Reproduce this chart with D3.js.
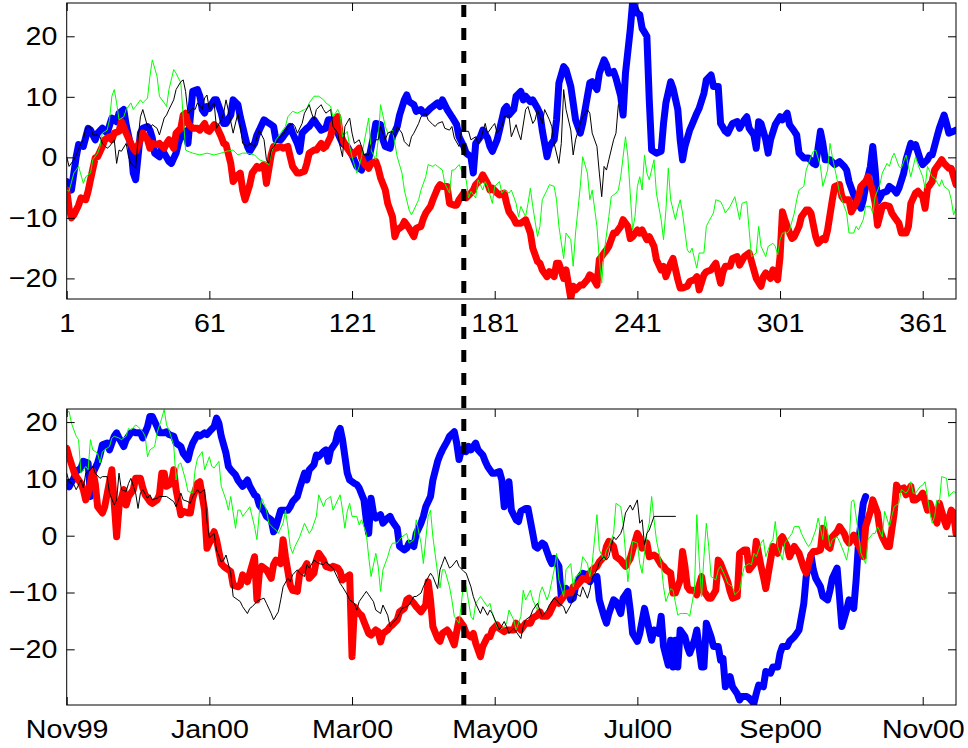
<!DOCTYPE html>
<html>
<head>
<meta charset="utf-8">
<script src="https://cdn.jsdelivr.net/npm/d3@7"></script>
<style>
  html, body { margin: 0; padding: 0; background: #fff; }
  svg { display: block; }
  text { font-family: "Liberation Sans", Arial, Helvetica, sans-serif; }
</style>
</head>
<body>
<svg id="chart" width="968" height="748"></svg>
<script>
// ---- axis ticks and labels ----
const xTicks = [1, 61, 121, 181, 241, 301, 361];
const topXLabels = ["1", "61", "121", "181", "241", "301", "361"];
const bottomXLabels = ["Nov99", "Jan00", "Mar00", "May00", "Jul00", "Sep00", "Nov00"];
const yTicks = [-20, -10, 0, 10, 20];
const eventDay = 168;

// ---- upper panel series: [day, value] ----
const topBlue = [[1,-4.0],[3,-5.4],[5,0.1],[6,2.1],[8,1.8],[10,4.8],[11,4.5],[13,2.9],[14,4.0],[16,4.8],[18,4.0],[20,6.5],[22,5.9],[23,7.3],[25,7.9],[26,5.4],[28,1.8],[29,-2.6],[30,-3.7],[31,0.1],[32,4.0],[33,4.8],[35,5.1],[36,4.5],[37,3.2],[38,0.7],[40,0.1],[41,1.5],[42,0.7],[44,-0.7],[45,-1.0],[47,0.7],[48,2.3],[49,3.4],[51,4.3],[52,2.3],[53,6.7],[54,10.9],[56,11.2],[57,10.1],[58,7.9],[59,7.3],[60,8.4],[61,8.1],[63,9.5],[64,9.5],[66,7.3],[67,5.6],[68,5.6],[70,7.0],[71,9.5],[73,8.7],[74,6.7],[75,5.1],[77,1.8],[78,1.0],[80,2.3],[81,3.7],[82,4.5],[84,6.2],[85,5.9],[87,5.4],[88,5.1],[89,2.9],[91,2.9],[92,3.4],[94,4.5],[95,5.1],[96,4.0],[98,2.3],[99,1.0],[100,4.0],[102,4.8],[103,5.1],[105,6.2],[106,5.6],
[108,4.5],[110,4.8],[111,6.2],[113,6.2],[115,4.0],[117,2.3],[119,1.8],[121,0.4],[123,-1.5],[125,-2.1],[127,0.1],[128,-0.4],[130,3.4],[131,5.6],[133,5.4],[134,2.9],[135,1.8],[137,1.5],[138,3.4],[140,5.1],[141,7.0],[143,9.5],[144,10.3],[145,9.2],[147,8.7],[148,7.6],[150,7.9],[151,7.3],[152,7.3],[154,8.1],[155,8.4],[157,9.0],[158,8.4],[159,9.5],[161,7.9],[163,6.7],[165,5.4],[166,3.4],[168,1.8],[169,0.7],[171,0.1],[172,-2.6],[173,2.3],[175,3.4],[176,4.5],[178,3.2],[179,1.8],[180,1.0],[182,2.9],[183,4.5],[185,7.9],[186,8.4],[187,7.0],[189,7.9],[190,10.1],[192,10.9],[193,9.5],[194,10.1],[196,9.2],[197,9.5],[199,8.1],[200,7.3],[201,4.5],[203,0.1],[204,1.8],[206,2.9],[207,6.2],[208,12.3],[210,15.0],[211,14.5],[213,11.7],[214,9.0],[215,6.2],[217,4.0],[218,5.6],[220,10.1],[221,12.3],[222,12.5],[224,11.2],[225,13.9],[227,16.1],[228,15.3],[229,13.9],[231,14.2],[232,13.1],[234,10.1],[235,7.0],[236,13.9],[238,21.1],[239,25.6],[241,23.8],[242,23.6],[243,21.3],[245,20.0],[246,9.5],[247,1.2],[249,0.7],[251,1.0],[252,5.6],[253,9.0],[255,12.5],[256,11.4],[258,7.9],[259,2.9],[260,-0.4],[261,1.8],[263,4.5],[264,5.4],[266,7.3],[267,8.1],[269,10.6],[270,12.8],[272,13.6],[273,11.7],[275,11.7],[276,5.6],[278,4.3],[279,4.0],[281,5.6],[283,5.9],[284,4.8],[286,6.2],[287,6.7],[288,4.8],[290,3.7],[291,1.5],[292,5.9],[293,5.6],[295,2.9],[296,0.7],[297,2.9],[299,5.4],[301,6.7],[302,6.2],[304,7.3],[305,5.4],[307,4.3],[308,3.7],[309,0.7],[311,-0.1],[313,-0.1],[315,-1.0],[316,-1.2],[318,4.3],[319,2.3],[320,-0.4],[322,-0.4],[324,-1.2],[326,-0.7],[328,-1.5],[329,-2.1],[330,-4.0],[332,-6.2],[333,-7.0],[335,-8.4],[336,-7.0],[337,-4.8],[339,-1.5],[340,1.8],[341,-2.1],[342,-7.3],[343,-6.7],[344,-5.9],[346,-5.6],[347,-4.8],[349,-5.4],[350,-5.9],[351,-5.1],[353,-2.6],[354,-0.4],[356,2.3],[357,1.8],[358,2.1],[360,-0.4],[361,-1.2],[363,-0.4],[364,0.4],[365,0.4],[367,3.4],[368,4.8],[370,7.0],[371,5.6],[372,4.0],[374,4.3],[375,4.5]];

const topRed = [[1,-5.4],[2,-8.4],[3,-10.0],[4,-9.5],[6,-7.9],[7,-6.7],[9,-7.0],[10,-5.6],[11,-3.7],[13,-0.1],[14,0.1],[16,1.8],[17,2.9],[19,3.4],[20,2.9],[21,4.0],[23,4.3],[24,5.9],[26,4.0],[28,2.3],[29,1.5],[30,1.0],[32,2.9],[33,4.0],[35,2.9],[36,1.5],[37,2.3],[39,2.1],[40,2.3],[42,1.5],[43,2.3],[44,2.9],[46,1.5],[47,4.0],[49,4.8],[50,7.0],[51,7.3],[52,5.6],[54,4.8],[56,4.8],[57,4.5],[59,5.6],[60,4.5],[61,4.3],[63,5.4],[64,5.1],[66,3.4],[67,2.3],[68,2.1],[70,-1.0],[71,-4.0],[73,-2.9],[74,-2.6],[75,-5.4],[76,-7.0],[78,-4.5],[79,-2.6],[81,-1.5],[82,-1.8],[84,-1.2],[85,-4.3],[87,0.4],[88,1.8],[89,1.5],[91,1.8],[92,1.5],[94,1.8],[95,0.1],[96,-1.5],[98,-2.6],[99,-2.6],[101,-2.3],[102,-1.0],[103,0.7],[105,1.2],[106,1.2],
[108,2.3],[109,1.5],[110,1.8],[112,3.4],[113,5.4],[115,6.7],[116,4.0],[117,2.9],[119,1.5],[121,0.4],[122,0.7],[124,1.5],[125,-0.1],[126,-1.0],[128,-1.8],[129,-1.0],[131,-0.7],[132,-1.8],[133,-3.4],[135,-5.4],[136,-7.6],[138,-9.8],[139,-13.1],[140,-12.0],[142,-11.4],[143,-10.6],[145,-11.7],[147,-13.1],[148,-11.7],[150,-11.4],[151,-10.1],[152,-9.2],[154,-8.1],[155,-7.0],[157,-5.1],[158,-4.5],[159,-4.8],[161,-4.8],[162,-7.6],[164,-7.9],[165,-7.9],[166,-7.0],[168,-5.9],[169,-6.7],[171,-5.9],[172,-5.4],[173,-4.5],[175,-3.7],[176,-2.9],[178,-4.3],[179,-5.4],[180,-5.1],[182,-5.9],[183,-6.2],[185,-5.9],[186,-7.6],[187,-9.0],[189,-10.1],[190,-10.9],[192,-10.9],[193,-10.6],[194,-10.3],[196,-12.5],[197,-15.0],[199,-17.2],[200,-17.5],[201,-18.6],[203,-19.7],[204,-18.9],[206,-19.7],[207,-17.5],[208,-17.5],[210,-20.0],[211,-18.6],[213,-23.3],[214,-21.3],[215,-21.9],[217,-21.1],[218,-21.1],[220,-20.2],[221,-19.4],[222,-19.7],[224,-21.1],[225,-16.9],[227,-15.8],[228,-15.3],[229,-14.7],[231,-12.5],[232,-12.5],[234,-11.4],[235,-10.3],[237,-11.4],[238,-13.4],[239,-13.1],[241,-12.0],
[242,-12.5],[243,-12.0],[245,-13.6],[246,-13.1],[248,-14.7],[249,-16.9],[251,-18.6],[252,-18.0],[253,-19.7],[255,-17.5],[256,-16.7],[258,-20.2],[259,-21.6],[260,-21.6],[262,-21.3],[263,-20.5],[265,-20.2],[266,-19.7],[267,-21.9],[269,-19.4],[270,-18.9],[272,-18.6],[273,-18.0],[274,-17.5],[276,-20.8],[277,-18.9],[278,-18.0],[280,-18.0],[281,-16.7],[283,-16.4],[284,-17.8],[286,-16.4],[287,-16.1],[288,-15.8],[290,-18.6],[291,-20.0],[293,-21.3],[294,-19.7],[295,-19.1],[297,-20.0],[298,-18.6],[300,-20.2],[301,-16.4],[302,-9.0],[303,-10.3],[305,-12.5],[306,-13.4],[307,-13.1],[309,-11.4],[310,-9.8],[312,-8.7],[313,-8.7],[314,-9.2],[316,-13.1],[317,-14.2],[319,-13.4],[320,-13.6],[321,-12.0],[323,-7.0],[324,-4.8],[326,-4.5],[327,-6.5],[328,-7.0],[330,-7.0],[331,-9.0],[333,-7.6],[334,-6.5],[335,-4.8],[337,-4.0],[338,-3.2],[340,-5.6],[341,-7.6],[342,-11.2],[344,-8.1],[345,-7.9],[347,-8.1],[348,-9.2],[349,-9.8],[351,-10.9],[352,-12.5],[354,-12.5],[355,-11.4],[356,-7.6],[358,-5.9],[359,-5.6],[361,-6.5],[362,-8.4],[363,-5.1],[365,-4.0],[366,-2.1],[368,-1.0],[369,-0.4],[370,-1.0],[372,-1.8],[373,-1.8],[375,-4.5]];

const topGreen = [[1,-5.4],[2,-5.6],[4,-2.6],[6,-1.5],[8,-4.3],[9,-3.2],[11,-2.6],[12,-0.4],[14,0.7],[15,1.8],[16,4.0],[18,4.5],[19,6.2],[20,10.1],[21,11.2],[22,9.0],[23,6.2],[25,6.7],[26,7.9],[28,9.0],[29,7.9],[30,8.4],[32,9.5],[33,9.0],[35,9.8],[36,13.4],[37,16.1],[39,13.4],[40,10.1],[42,9.0],[43,8.4],[44,11.2],[46,14.5],[47,13.9],[49,12.3],[50,6.7],[51,1.2],[52,1.0],[54,0.7],[57,0.4],[60,0.7],[63,0.4],[66,0.7],[68,1.0],[71,1.2],[73,0.4],[75,0.7],[77,0.7],[80,0.4],[82,-0.4],[84,-0.7],[86,-1.2],[87,0.7],[89,2.9],[91,4.0],[93,5.1],[94,6.7],[96,7.6],[98,7.3],[101,7.9],[102,8.1],[103,9.0],[105,10.1],
[107,10.1],[109,9.5],[110,9.0],[112,8.4],[113,6.7],[115,7.9],[116,7.0],[117,3.4],[119,4.3],[120,1.8],[121,0.1],[123,-2.6],[124,-1.5],[125,0.1],[126,2.3],[128,6.5],[129,1.2],[131,-0.4],[132,2.9],[133,8.7],[135,5.1],[136,4.0],[138,4.5],[139,2.3],[140,0.1],[142,-2.6],[143,-5.4],[145,-8.7],[146,-9.5],[147,-8.7],[149,-7.0],[150,-5.4],[152,-3.2],[153,-1.2],[155,-1.5],[156,-1.2],[157,-1.5],[159,-2.1],[160,-4.3],[162,-5.9],[163,-2.1],[164,-2.1],[166,-1.2],[167,-2.1],[169,-3.7],[170,-6.7],[171,-5.6],[173,-6.7],[174,-3.7],[176,-5.4],[177,-4.0],[178,-4.8],[180,-7.6],[181,-4.8],[183,-4.0],[184,-5.9],[185,-5.4],[187,-5.9],[188,-5.4],[190,-7.6],[191,-9.8],[192,-8.1],[194,-9.8],[195,-7.6],[196,-5.1],[197,-8.1],[199,-13.1],[200,-11.4],[201,-7.0],[203,-5.4],[204,-4.5],[206,-4.8],[207,-7.0],[208,-11.4],[210,-16.7],[211,-12.5],[213,-13.6],[214,-18.0],[215,-12.5],[217,-4.8],[218,0.1],[220,-2.6],[221,-7.0],[222,-5.4],[224,-11.4],[225,-16.9],[226,-20.8],[227,-15.8],[229,-9.8],[230,-6.5],[232,-5.9],[233,-5.4],[234,-3.2],[236,3.4],[237,0.1],[239,-12.0],[240,-9.8],[241,-4.8],
[242,-3.2],[243,-5.4],[244,0.4],[245,-2.6],[246,-3.7],[248,-0.4],[249,-5.9],[251,-10.3],[252,-13.6],[253,-8.7],[254,-1.8],[255,-7.0],[257,-10.3],[258,-8.4],[259,-7.0],[260,-9.2],[262,-15.3],[263,-15.8],[264,-15.0],[265,-16.7],[266,-18.3],[267,-15.8],[269,-15.8],[270,-11.4],[271,-10.6],[273,-9.2],[274,-7.0],[276,-7.3],[277,-8.1],[278,-9.2],[280,-8.1],[282,-6.5],[284,-10.3],[285,-7.6],[287,-7.3],[288,-12.0],[289,-16.4],[291,-15.8],[292,-11.4],[293,-14.7],[295,-16.4],[296,-14.7],[298,-14.2],[299,-14.7],[300,-16.1],[301,-13.6],[302,-12.5],[304,-12.5],[305,-12.0],[307,-9.2],[308,-7.0],[309,-5.4],[311,-4.8],[312,-2.1],[314,0.1],[315,1.0],[316,1.2],[318,-1.5],[319,-4.8],[321,-2.1],[322,2.3],[323,0.1],[325,-3.7],[326,-5.9],[327,-7.0],[329,-9.2],[330,-12.5],[332,-12.5],[333,-11.4],[334,-12.0],[336,-10.3],[337,-8.1],[339,-8.1],[340,-9.2],[341,-6.5],[343,-4.5],[344,-2.6],[346,-1.0],[347,-1.5],[348,-0.1],[349,0.7],[351,-1.5],[352,-1.8],[354,0.4],[355,-1.5],[356,-3.2],[358,0.1],[359,-1.2],[361,-3.2],[362,-5.1],[363,-1.5],[365,-3.2],[366,-3.4],[368,-4.8],[369,-3.7],[370,-4.8],[372,-5.4],[373,-7.0],[374,-9.5],[375,-8.4]];

const topBlack = [[1,0.1],[2,-1.5],[4,-0.4],[5,0.4],[7,2.3],[8,2.9],[9,4.8],[11,5.1],[12,3.7],[14,3.7],[15,3.4],[16,2.3],[18,1.5],[19,1.8],[21,2.9],[22,-1.0],[23,1.2],[24,1.0],[26,2.3],[27,0.1],[28,-1.0],[30,-1.8],[31,2.9],[32,6.7],[33,7.9],[35,5.1],[36,4.8],[37,5.4],[39,4.8],[40,3.7],[42,6.5],[43,7.0],[44,7.9],[46,9.5],[47,11.2],[49,12.5],[50,12.8],[51,10.9],[52,7.3],[54,8.1],[55,7.9],[56,9.0],[58,7.9],[59,9.8],[60,10.3],[61,7.9],[63,9.0],[64,4.8],[66,6.2],[67,7.3],[68,9.5],[70,5.9],[71,4.0],[73,7.3],[74,5.1],[75,2.3],[77,1.8],[78,2.3],[80,1.8],[81,3.4],[82,4.5],[84,2.9],[85,-0.4],[86,-1.0],[87,1.2],[89,2.3],[90,2.9],[91,3.4],[93,4.3],[94,5.1],[96,5.6],[97,5.1],[98,4.0],[100,5.6],[101,7.3],[103,8.7],[104,7.3],[105,6.2],[106,7.9],
[108,8.7],[109,7.9],[110,7.3],[112,7.9],[113,5.1],[115,4.0],[116,1.8],[117,0.1],[118,5.1],[120,6.5],[121,4.0],[122,2.3],[124,2.9],[125,1.8],[126,0.4],[128,0.4],[129,2.1],[131,2.9],[132,2.9],[133,5.1],[135,2.9],[136,4.0],[138,4.3],[139,3.4],[140,5.1],[142,4.0],[143,2.6],[145,1.8],[146,3.4],[147,4.0],[149,5.6],[150,6.7],[152,7.3],[153,6.2],[155,5.4],[156,5.1],[157,5.6],[159,5.9],[160,4.8],[162,4.5],[163,5.1],[164,3.2],[166,1.8],[167,4.5],[169,4.3],[170,4.3],[171,2.9],[173,3.4],[174,2.3],[175,2.9],[177,5.6],[178,4.0],[180,5.1],[181,5.6],[182,4.0],[184,5.1],[185,6.7],[187,7.0],[188,3.4],[190,5.4],[191,4.0],[192,2.9],[194,7.9],[195,8.4],[197,5.6],[198,6.2],[199,7.9],[201,5.6],[202,7.9],[204,6.2],[205,5.1],[206,2.3],[208,-1.0],[209,2.3],[210,11.2],[211,7.9],[213,4.5],[214,0.4],[215,2.9],[217,5.6],[218,6.7],[220,7.9],[221,7.3],[222,4.0],[224,1.8],[225,-2.6],[226,-6.5],[227,-1.5],[228,-2.1],[229,-0.4],[231,2.9],[232,4.0],[233,8.7]];

// ---- lower panel series: [day, value] ----
const bottomBlue = [[1,9.2],[2,8.6],[4,10.1],[5,11.3],[7,11.9],[8,13.1],[10,12.8],[11,6.9],[12,11.0],[14,12.8],[15,14.2],[16,16.0],[18,16.3],[19,15.1],[21,17.5],[22,18.1],[23,17.2],[25,15.7],[26,16.9],[28,18.1],[29,18.3],[30,18.1],[32,18.1],[33,17.2],[35,19.2],[36,21.0],[37,21.0],[39,19.2],[40,18.1],[42,18.1],[43,18.3],[44,17.8],[46,17.5],[47,16.3],[49,15.7],[50,14.5],[52,13.4],[53,15.1],[54,16.3],[56,17.8],[57,17.5],[59,18.1],[60,17.8],[61,18.3],[63,19.2],[64,20.7],[65,19.8],[66,17.5],[68,14.5],[69,12.2],[70,11.6],[72,10.7],[73,9.8],[75,8.7],[77,9.8],[78,8.7],[80,7.2],[81,6.9],[82,5.4],[84,4.3],[85,3.4],[87,2.8],[88,0.7],[89,1.6],[91,4.5],[92,4.5],[94,4.5],[95,5.1],[96,6.0],[98,6.9],[99,8.4],[101,11.0],[102,9.8],[103,11.6],[105,12.5],[106,14.2],
[107,13.9],[109,14.8],[110,15.1],[111,13.1],[112,15.1],[114,16.3],[115,18.1],[116,18.9],[117,16.9],[119,11.0],[120,9.8],[122,9.2],[123,9.0],[124,8.4],[126,6.3],[127,2.8],[128,0.4],[129,6.6],[130,4.0],[131,3.1],[133,3.7],[134,2.2],[136,3.1],[137,3.4],[138,2.5],[140,1.3],[141,-1.9],[143,-2.5],[144,-2.2],[145,-1.3],[147,-1.9],[148,0.4],[150,2.2],[151,3.4],[152,5.1],[154,6.9],[155,9.8],[157,13.1],[158,14.2],[159,15.1],[161,16.6],[162,17.5],[164,18.3],[165,16.3],[166,13.4],[167,15.1],[169,14.8],[170,15.7],[171,15.1],[173,16.3],[174,15.1],[176,14.2],[177,13.1],[178,12.2],[180,11.0],[181,11.0],[183,11.3],[184,9.8],[185,5.1],[187,9.5],[188,4.5],[190,2.8],[191,2.5],[192,4.3],[194,4.8],[195,4.8],[197,0.4],[198,-1.9],[199,-2.2],[201,-1.3],[202,-1.6],[204,-4.0],[205,-4.9],[206,-4.0],[208,-5.4],[209,-10.7],[210,-9.6],[211,-9.3],[213,-11.3],[214,-11.0],[215,-9.0],[217,-7.2],[218,-6.6],[220,-6.9],[221,-8.1],[222,-7.5],[224,-7.2],[225,-11.3],[227,-14.2],[228,-15.4],[229,-13.7],[231,-11.3],[232,-11.6],[234,-13.7],[235,-11.0],[237,-9.8],[238,-13.1],[239,-17.2],[241,-18.6],
[242,-17.2],[244,-12.8],[246,-16.6],[247,-18.4],[248,-16.6],[250,-17.2],[251,-14.2],[252,-19.5],[254,-22.8],[255,-18.4],[256,-23.1],[257,-18.4],[258,-23.1],[259,-16.6],[261,-17.8],[262,-19.5],[263,-20.7],[265,-18.4],[266,-16.6],[268,-23.1],[269,-23.1],[270,-15.4],[272,-17.8],[273,-19.5],[275,-19.5],[276,-21.9],[277,-21.6],[278,-26.6],[280,-24.8],[281,-26.6],[283,-27.8],[284,-28.9],[285,-28.3],[287,-28.3],[288,-28.6],[290,-29.5],[291,-27.8],[292,-26.3],[294,-26.6],[295,-23.9],[297,-24.2],[298,-23.1],[300,-23.1],[301,-20.7],[302,-19.5],[304,-19.5],[305,-18.6],[307,-17.8],[308,-17.2],[309,-16.6],[311,-11.9],[312,-7.2],[314,-3.4],[315,-6.0],[316,-7.5],[318,-9.0],[319,-10.7],[321,-11.3],[322,-9.6],[323,-7.5],[325,-5.7],[326,-10.7],[327,-16.0],[329,-13.1],[330,-11.3],[332,-12.8],[333,-7.8],[334,-1.3],[335,2.2],[336,5.7],[337,6.9]];

const bottomRed = [[1,15.4],[2,13.9],[4,11.3],[5,10.4],[7,9.2],[8,8.1],[9,6.3],[10,7.5],[12,11.3],[13,9.2],[14,5.1],[16,4.0],[17,5.1],[19,9.5],[20,11.6],[21,5.7],[22,-0.2],[23,5.1],[25,8.1],[26,5.4],[27,6.9],[29,8.1],[30,10.1],[32,10.1],[33,8.4],[34,7.2],[36,6.0],[37,5.7],[39,6.3],[40,7.2],[41,11.0],[42,11.0],[43,8.7],[45,9.2],[46,11.6],[47,8.1],[49,3.7],[50,4.3],[52,4.0],[53,4.0],[54,6.6],[56,9.2],[57,9.5],[59,4.5],[60,-2.2],[61,-1.3],[63,0.7],[64,-0.7],[66,-4.9],[67,-5.4],[68,-5.7],[70,-6.3],[71,-8.7],[73,-9.0],[74,-8.7],[75,-6.9],[77,-8.1],[78,-6.6],[80,-3.7],[81,-11.3],[82,-6.6],[83,-5.4],[85,-6.0],[87,-7.5],[88,-5.1],[89,-4.3],[91,-4.9],[92,-0.7],[93,-3.7],[95,-8.7],[96,-9.6],[98,-9.8],[99,-6.6],[101,-5.7],[102,-4.9],[103,-7.5],[105,-6.6],[106,-4.3],
[107,-3.1],[109,-4.3],[110,-5.4],[112,-5.7],[113,-5.4],[115,-5.7],[116,-6.3],[117,-7.8],[119,-7.2],[120,-6.9],[121,-21.3],[122,-12.5],[124,-13.7],[125,-14.0],[126,-15.1],[128,-17.2],[129,-17.5],[131,-16.6],[132,-16.9],[133,-18.7],[134,-17.2],[136,-16.6],[137,-16.0],[138,-15.7],[140,-14.8],[141,-13.4],[143,-12.8],[144,-11.3],[145,-11.0],[147,-11.9],[148,-12.5],[150,-13.4],[151,-12.8],[152,-12.2],[153,-8.1],[154,-11.3],[155,-16.0],[157,-18.1],[158,-18.6],[159,-17.2],[161,-16.6],[162,-17.2],[164,-19.2],[165,-16.9],[166,-14.8],[168,-16.0],[169,-17.2],[171,-17.8],[172,-17.2],[173,-18.9],[175,-21.3],[176,-19.5],[178,-17.8],[179,-17.8],[180,-16.6],[182,-15.7],[183,-16.3],[185,-16.9],[186,-16.6],[187,-16.6],[189,-16.6],[190,-15.4],[192,-16.6],[193,-16.0],[194,-15.4],[196,-15.4],[197,-14.5],[199,-14.0],[200,-13.4],[201,-14.2],[203,-14.2],[204,-13.7],[206,-11.9],[207,-11.3],[208,-11.9],[210,-10.7],[211,-10.1],[213,-10.1],[214,-9.0],[215,-9.0],[217,-8.1],[218,-7.5],[220,-7.8],[221,-6.6],[222,-6.0],[224,-5.4],[225,-4.6],[227,-3.7],[228,-1.9],[229,-1.0],[231,-1.9],[232,-3.7],[234,-4.3],[235,-4.9],[236,-5.4],[238,-4.0],[239,-2.5],[241,0.4],[242,-0.4],[243,-2.2],[245,-1.3],
[246,-3.7],[248,-3.4],[249,-3.7],[251,-5.1],[252,-5.4],[253,-6.0],[255,-6.6],[256,-10.1],[257,-10.1],[259,-7.8],[260,-2.8],[261,-5.4],[262,-9.0],[263,-9.6],[265,-9.6],[266,-10.4],[267,-8.7],[268,-7.2],[269,-9.8],[271,-11.0],[272,-11.0],[274,-9.6],[275,-4.3],[276,-4.9],[277,-6.0],[279,-8.1],[280,-9.8],[281,-11.0],[283,-10.7],[284,-3.1],[286,-2.5],[287,-2.5],[288,-6.0],[290,-4.9],[291,-1.0],[293,-5.4],[294,-7.2],[295,-9.3],[297,-4.3],[298,-1.9],[300,-3.1],[301,-0.7],[302,-0.2],[304,-1.9],[305,-3.7],[307,-1.9],[308,-2.5],[309,-3.1],[311,-5.7],[312,-6.6],[314,-3.4],[315,-2.8],[316,-2.8],[318,-2.5],[319,1.3],[321,-1.9],[322,-2.2],[323,-0.2],[325,0.7],[326,1.6],[328,0.4],[329,-0.7],[330,-1.3],[332,0.1],[333,-1.0],[335,-2.5],[336,-3.7],[337,1.6],[339,4.3],[340,6.3],[342,4.0],[343,1.0],[344,-0.2],[346,-1.9],[347,-1.9],[349,4.0],[350,8.9],[351,8.1],[353,8.4],[354,7.2],[356,8.7],[357,6.3],[358,6.3],[360,6.9],[361,7.5],[363,4.5],[364,5.7],[366,3.4],[367,2.2],[368,5.7],[370,2.8],[371,1.6],[373,4.5],[374,4.0],[375,0.4]];

const bottomGreen = [[1,21.6],[2,21.9],[3,19.8],[5,17.5],[6,16.9],[7,11.0],[9,12.2],[10,11.6],[11,16.9],[12,15.1],[14,14.5],[15,12.8],[16,14.8],[17,15.1],[19,15.7],[20,17.2],[21,17.5],[23,17.2],[24,16.9],[26,17.5],[27,18.9],[28,18.6],[30,19.5],[31,19.2],[33,18.3],[34,17.5],[35,13.9],[36,15.1],[38,15.7],[39,18.1],[41,20.7],[42,22.2],[43,19.5],[44,18.6],[46,16.0],[47,9.8],[48,12.5],[49,12.8],[51,9.8],[52,7.8],[54,7.5],[55,11.6],[56,13.6],[58,14.8],[59,11.6],[61,13.9],[62,12.2],[63,11.9],[65,13.1],[66,8.7],[68,6.3],[69,4.5],[70,6.9],[72,1.3],[73,4.5],[74,4.5],[75,3.4],[77,4.5],[78,5.1],[80,1.6],[81,-0.7],[82,4.0],[83,6.6],[85,4.5],[86,2.2],[88,1.3],[89,1.0],[90,0.4],[92,2.2],[93,4.5],[94,1.6],[95,-1.9],[96,-3.1],[97,-1.9],[99,-0.2],[100,1.0],[101,2.2],[103,0.4],[104,1.0],[106,3.4],
[107,7.2],[109,5.1],[110,6.3],[112,6.9],[113,4.5],[115,6.3],[116,7.2],[117,4.5],[118,1.3],[119,4.3],[120,5.7],[121,3.4],[123,3.4],[124,1.9],[125,2.8],[127,0.4],[128,-3.7],[129,-7.2],[131,-3.1],[132,-5.4],[133,-9.8],[134,-6.0],[136,-3.7],[137,-2.2],[138,-1.3],[140,-1.3],[141,-0.7],[142,-0.2],[144,0.4],[145,-1.3],[147,-0.7],[148,2.8],[150,-1.3],[151,-4.9],[152,-0.7],[153,3.4],[154,4.5],[155,-0.2],[157,-6.6],[158,-9.2],[159,-6.0],[160,-6.0],[162,-9.0],[163,-11.3],[164,-14.2],[166,-15.4],[167,-11.9],[168,-7.8],[169,-9.0],[171,-14.2],[172,-14.8],[173,-11.9],[175,-10.7],[176,-11.3],[178,-12.5],[179,-11.9],[180,-13.7],[182,-16.0],[183,-16.6],[185,-16.0],[186,-15.4],[187,-13.1],[189,-14.8],[190,-16.6],[192,-14.2],[193,-9.6],[194,-11.3],[196,-9.6],[197,-11.3],[199,-13.1],[200,-10.1],[201,-9.0],[203,-11.3],[204,-10.1],[206,-6.0],[207,-3.1],[208,-7.8],[210,-10.7],[211,-6.0],[213,-4.9],[214,-9.0],[215,-7.2],[217,-6.6],[218,-3.7],[220,-4.9],[221,-7.2],[222,-4.9],[224,3.7],[225,-2.5],[227,-4.3],[228,-2.5],[229,-1.9],[231,0.4],[232,5.7],[234,5.1],[235,2.2],[237,-8.1],[238,-4.3],[239,-1.0],[241,-1.3],
[242,-4.9],[243,-6.6],[245,0.4],[246,2.2],[247,6.9],[248,2.8],[249,-0.7],[251,-4.9],[252,-9.0],[253,-11.6],[255,-9.3],[256,-9.6],[258,-14.0],[259,-13.7],[260,-13.7],[262,-13.7],[263,-14.2],[265,-9.6],[266,3.7],[267,-4.3],[268,-10.7],[269,-3.7],[270,2.2],[271,-1.9],[272,-7.2],[274,-7.8],[275,-6.0],[276,-5.4],[278,-7.2],[279,-8.4],[281,-9.0],[282,-10.4],[284,-9.6],[285,-7.2],[286,-5.4],[288,-4.9],[289,-5.1],[290,-3.1],[291,-3.7],[293,-1.3],[294,-0.7],[295,-3.7],[297,-1.3],[298,-0.7],[299,2.5],[300,-1.9],[302,-4.3],[303,-1.3],[305,-0.2],[306,0.4],[307,1.6],[309,1.6],[310,0.4],[312,-1.3],[313,-1.9],[314,-1.3],[316,1.0],[317,3.1],[318,1.3],[319,-0.7],[320,3.4],[321,0.7],[322,-1.9],[323,-0.7],[325,-0.2],[326,-1.0],[328,-3.1],[329,-4.3],[330,-1.9],[331,6.0],[332,6.3],[334,0.4],[335,-3.1],[337,-4.9],[338,-0.7],[340,0.4],[341,0.4],[342,1.6],[344,-0.2],[345,4.3],[347,1.6],[348,3.4],[349,5.1],[351,5.7],[352,8.1],[354,7.5],[355,8.1],[356,9.5],[357,7.5],[358,7.5],[360,8.7],[361,8.9],[362,9.5],[363,6.9],[364,4.0],[365,2.2],[366,3.4],[367,6.3],[368,5.7],[369,10.4],[371,10.1],[372,6.9],[374,7.8],[375,7.5]];

const bottomBlack = [[1,11.0],[2,9.5],[4,9.0],[5,8.1],[7,9.8],[8,8.4],[9,11.0],[11,11.6],[12,12.2],[13,11.0],[15,10.1],[16,10.4],[18,10.4],[19,7.5],[21,5.4],[22,6.3],[23,11.0],[24,8.1],[26,7.8],[27,9.2],[28,10.1],[30,7.5],[31,4.8],[32,7.5],[33,8.1],[35,6.6],[36,7.2],[37,6.3],[39,6.6],[40,6.9],[42,6.9],[43,6.9],[44,6.6],[46,6.0],[47,5.1],[49,7.5],[50,6.3],[52,6.0],[53,5.7],[54,6.9],[56,8.1],[57,7.5],[59,8.1],[60,2.5],[61,-0.4],[63,0.4],[64,-2.5],[66,-4.6],[67,-4.3],[68,-3.4],[70,-6.6],[71,-10.7],[73,-11.3],[74,-11.6],[75,-12.5],[77,-13.7],[78,-12.8],[79,-12.5],[81,-11.6],[82,-11.3],[84,-11.0],[85,-11.9],[87,-13.7],[88,-14.8],[90,-13.4],[91,-11.3],[92,-9.0],[94,-7.5],[95,-8.1],[96,-6.9],[98,-6.0],[99,-6.6],[101,-7.2],[102,-5.1],[103,-5.7],[105,-4.3],[106,-4.6],
[107,-4.9],[109,-5.1],[110,-4.6],[112,-5.4],[113,-5.7],[115,-7.5],[116,-8.4],[117,-9.0],[119,-10.4],[120,-11.3],[122,-11.9],[123,-13.1],[124,-11.6],[126,-10.4],[127,-9.8],[128,-10.4],[130,-11.6],[131,-13.1],[133,-13.7],[134,-12.2],[136,-14.0],[137,-16.0],[138,-15.4],[140,-14.5],[141,-13.7],[142,-12.8],[144,-12.5],[145,-12.2],[147,-10.7],[148,-10.7],[150,-10.1],[151,-9.0],[152,-8.1],[154,-6.6],[155,-7.2],[157,-9.3],[158,-6.0],[159,-4.9],[160,-3.7],[162,-5.7],[163,-5.4],[165,-4.3],[166,-5.4],[168,-6.3],[169,-6.6],[171,-9.0],[172,-10.7],[173,-11.9],[175,-13.7],[176,-12.5],[178,-14.0],[179,-13.1],[180,-13.7],[182,-15.7],[183,-16.6],[185,-15.1],[186,-16.0],[187,-17.2],[189,-16.3],[190,-16.9],[192,-18.1],[193,-16.0],[194,-14.8],[196,-14.2],[197,-13.1],[199,-11.9],[200,-13.1],[201,-14.2],[203,-13.1],[204,-12.2],[206,-11.0],[207,-11.3],[208,-11.9],[210,-12.5],[211,-13.7],[213,-12.2],[214,-11.0],[215,-10.1],[217,-10.7],[218,-9.0],[220,-11.0],[221,-9.6],[222,-7.5],[224,-6.0],[225,-4.6],[227,-3.7],[228,-4.3],[229,-3.7],[231,-0.2],[232,-0.7],[234,0.4],[235,1.6],[236,4.0],[238,5.4],[239,4.5],[241,6.3],[242,2.2],[243,2.8],[244,-1.6],[245,0.4],[246,1.0],[247,2.2],[248,3.4],[257,3.4]];

// ---- layout ----
const svg = d3.select("#chart");
const plotLeft = 66.7, plotRight = 956;
const x = d3.scaleLinear().domain([1, 375]).range([plotLeft, plotRight]);

const panels = [
  { id: "upper", top: 3, bottom: 299, yDomain: [-23.4, 25.5], xLabels: topXLabels,
    series: [ {data: topBlue, color: "#0000ff", width: 7},
              {data: topRed, color: "#ff0000", width: 7},
              {data: topGreen, color: "#00ff00", width: 1},
              {data: topBlack, color: "#000000", width: 1} ] },
  { id: "lower", top: 409, bottom: 705, yDomain: [-29.8, 22.3], xLabels: bottomXLabels,
    series: [ {data: bottomBlue, color: "#0000ff", width: 7},
              {data: bottomRed, color: "#ff0000", width: 7},
              {data: bottomGreen, color: "#00ff00", width: 1},
              {data: bottomBlack, color: "#000000", width: 1} ] }
];

const labelStretch = "scale(1.1,1)";

panels.forEach(p => {
  const y = d3.scaleLinear().domain(p.yDomain).range([p.bottom, p.top]);
  const g = svg.append("g").attr("class", "panel-" + p.id);

  g.append("clipPath").attr("id", "clip-" + p.id)
    .append("rect")
    .attr("x", plotLeft).attr("y", p.top)
    .attr("width", plotRight - plotLeft).attr("height", p.bottom - p.top);

  const lines = g.append("g").attr("clip-path", "url(#clip-" + p.id + ")");
  const line = d3.line().x(d => x(d[0])).y(d => y(d[1]));
  p.series.forEach(s => {
    lines.append("path")
      .datum(s.data)
      .attr("d", line)
      .attr("fill", "none")
      .attr("stroke", s.color)
      .attr("stroke-width", s.width)
      .attr("stroke-linejoin", "round")
      .attr("stroke-linecap", "round");
  });

  // bottom axis with labels
  const xb = g.append("g").attr("transform", `translate(0,${p.bottom})`)
    .call(d3.axisBottom(x).tickValues(xTicks).tickSize(-8).tickSizeOuter(0).tickPadding(15)
      .tickFormat((d, i) => p.xLabels[i]));
  // left axis with labels
  const yl = g.append("g").attr("transform", `translate(${plotLeft},0)`)
    .call(d3.axisLeft(y).tickValues(yTicks).tickSize(-8).tickSizeOuter(0).tickPadding(8.5));
  // mirrored ticks on top and right
  const xt = g.append("g").attr("transform", `translate(0,${p.top})`)
    .call(d3.axisTop(x).tickValues(xTicks).tickSize(-8).tickSizeOuter(0).tickFormat(""));
  const yr = g.append("g").attr("transform", `translate(${plotRight},0)`)
    .call(d3.axisRight(y).tickValues(yTicks).tickSize(-8).tickSizeOuter(0).tickFormat(""));

  [xb, yl, xt, yr].forEach(a => {
    a.select(".domain").remove();
    a.selectAll("line").attr("stroke", "#000");
  });
  [xb, yl].forEach(a => {
    a.selectAll("text")
      .attr("fill", "#000")
      .style("font-size", "26px")
      .attr("transform", labelStretch);
  });

  g.append("rect")
    .attr("x", plotLeft).attr("y", p.top)
    .attr("width", plotRight - plotLeft).attr("height", p.bottom - p.top)
    .attr("fill", "none").attr("stroke", "#000").attr("stroke-width", 1);
});

// event marker spanning both panels
svg.append("line")
  .attr("x1", x(eventDay)).attr("x2", x(eventDay))
  .attr("y1", panels[0].top + 2).attr("y2", panels[1].bottom)
  .attr("stroke", "#000")
  .attr("stroke-width", 5)
  .attr("stroke-dasharray", "12,11");
</script>
</body>
</html>
